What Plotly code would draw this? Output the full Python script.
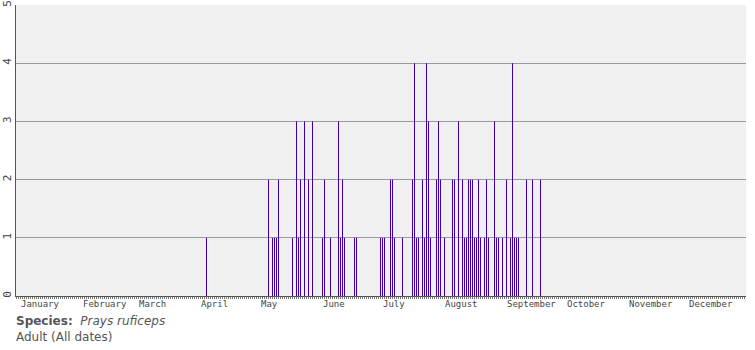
import plotly.graph_objects as go

# ---- data ----
months = ["January", "February", "March", "April", "May", "June",
          "July", "August", "September", "October", "November", "December"]
month_start_day = [0, 31, 59, 90, 120, 151, 181, 212, 243, 273, 304, 334]
year_days = 365

record_day = [95,
              126, 128, 129, 130, 131,
              138, 140, 141, 142, 144, 146, 148,
              153, 154, 157,
              161, 162, 163, 164,
              169, 170,
              182, 183, 184, 187, 188, 189, 193,
              198, 199, 200, 201, 203, 204, 205, 206, 207,
              210, 211, 212, 214,
              218, 219, 221, 223, 224, 225, 226, 227, 228, 229, 230, 231, 232, 234, 235, 236,
              239, 240, 241, 243, 245, 247, 248, 249, 250, 251,
              255, 258, 262]
record_count = [1,
                2, 1, 1, 1, 2,
                1, 3, 1, 2, 3, 2, 3,
                1, 2, 1,
                3, 1, 2, 1,
                1, 1,
                1, 1, 1, 2, 2, 1, 1,
                2, 4, 1, 1, 2, 1, 4, 3, 1,
                2, 3, 2, 1,
                2, 2, 3, 2, 1, 1, 2, 2, 2, 1, 1, 2, 1, 1, 2, 1,
                3, 1, 1, 1, 2, 1, 4, 1, 1, 1,
                2, 2, 2]
y_ticks = [0, 1, 2, 3, 4, 5]

species_label = "Species:"
species_name = "Prays ruficeps"
stage_label = "Adult (All dates)"

# ---- thin vertical bars drawn as line segments ----
seg_x, seg_y = [], []
for d, c in zip(record_day, record_count):
    seg_x += [d, d, None]
    seg_y += [0, c, None]

fig = go.Figure(go.Scatter(
    x=seg_x, y=seg_y, mode="lines",
    line=dict(color="#3c00aa", width=1),
    hoverinfo="skip",
))

axis_font = dict(family="DejaVu Sans Mono", size=9, color="#444444")
ytick_font = dict(family="DejaVu Sans Mono", size=11, color="#444444")

fig.update_layout(
    width=755, height=350,
    margin=dict(l=16, r=9, t=5, b=54, pad=0, autoexpand=False),
    paper_bgcolor="white",
    plot_bgcolor="#f0f0f0",
    showlegend=False,
    xaxis=dict(
        range=[-0.25, year_days - 0.25],
        tickmode="array",
        tickvals=month_start_day + [year_days],
        ticktext=[""] * (len(month_start_day) + 1),
        ticks="outside", ticklen=4, tickwidth=1, tickcolor="#555555",
        minor=dict(dtick=1, tick0=0, ticks="outside", ticklen=2,
                   tickwidth=1, tickcolor="#777777", showgrid=False),
        showgrid=False, zeroline=False,
        showline=True, linecolor="#555555", linewidth=1,
        showticklabels=False, fixedrange=True, automargin=False,
    ),
    yaxis=dict(
        range=[0, 5],
        tickmode="array", tickvals=y_ticks,
        ticktext=[str(v) for v in y_ticks],
        tickangle=-90, tickfont=ytick_font,
        ticks="", showgrid=True, gridcolor="#999999", gridwidth=1,
        zeroline=False, showline=True, linecolor="#555555", linewidth=1,
        fixedrange=True, automargin=False,
    ),
)

annotations = []
for name, start in zip(months, month_start_day):
    annotations.append(dict(
        x=start, y=0, xref="x", yref="paper",
        text=name, showarrow=False, xanchor="left", yanchor="top",
        xshift=2, yshift=-1, font=axis_font,
    ))

annotations.append(dict(
    x=0, y=0, xref="paper", yref="paper", xanchor="left", yanchor="top",
    xshift=-2, yshift=-16, align="left", showarrow=False,
    text=f"<b>{species_label}</b>  <i>{species_name}</i><br>{stage_label}",
    font=dict(family="DejaVu Sans", size=12, color="#555555"),
))
fig.update_layout(annotations=annotations)

fig.write_html("out.html")
